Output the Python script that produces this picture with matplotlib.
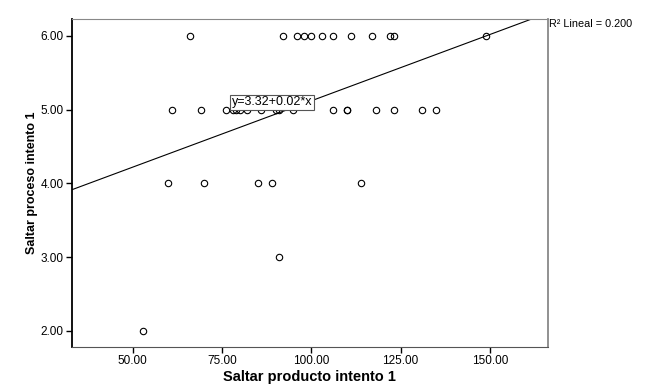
import matplotlib
matplotlib.use('Agg')
import matplotlib.pyplot as plt

plt.rcParams['font.family'] = ['Liberation Sans', 'DejaVu Sans']

# scatter values
producto = [66, 92, 96, 98, 100, 103, 106, 111, 117, 122, 123, 149,
            61, 69, 76, 78, 79, 80, 82, 86, 90, 91, 95, 106, 110, 110, 118, 123, 131, 135,
            60, 70, 85, 89, 114,
            91,
            53]
proceso = [6, 6, 6, 6, 6, 6, 6, 6, 6, 6, 6, 6,
           5, 5, 5, 5, 5, 5, 5, 5, 5, 5, 5, 5, 5, 5, 5, 5, 5, 5,
           4, 4, 4, 4, 4,
           3,
           2]

intercept = 3.32
slope = 0.018
xlim = [33, 166.2]
ylim = [1.78, 6.23]
xticks = [50, 75, 100, 125, 150]
yticks = [2, 3, 4, 5, 6]

fig = plt.figure(figsize=(6.46, 3.92), dpi=100)
ax = fig.add_axes([0.1115, 0.115, 0.7365, 0.8365])

ax.plot(producto, proceso, 'o', mfc='none', mec='black', ms=4.6, mew=0.8)
ax.plot(xlim, [intercept + slope * v for v in xlim], color='black', lw=0.8)

ax.set_xlim(xlim)
ax.set_ylim(ylim)
ax.set_xticks(xticks)
ax.set_xticklabels(['%.2f' % v for v in xticks])
ax.set_yticks(yticks)
ax.set_yticklabels(['%.2f' % v for v in yticks])
ax.tick_params(labelsize=8.5, length=4, width=1, direction='out', colors='black', pad=2)

ax.spines['left'].set_linewidth(1.3)
ax.spines['left'].set_color('black')
ax.spines['bottom'].set_color('#555555')
ax.spines['top'].set_color('#888888')
ax.spines['right'].set_color('#888888')
ax.spines['right'].set_linewidth(1.3)

ax.set_xlabel('Saltar producto intento 1', fontsize=10.5, fontweight='bold', labelpad=2)
ax.set_ylabel('Saltar proceso intento 1', fontsize=9, fontweight='bold', labelpad=2)

ax.text(77.7, 5.1, 'y=3.32+0.02*x', fontsize=9, va='center', ha='left',
        bbox=dict(boxstyle='square,pad=0.12', fc='white', ec='#555555', lw=0.8))
ax.text(1.002, 0.985, 'R² Lineal = 0.200', transform=ax.transAxes,
        fontsize=7.8, va='center', ha='left')

fig.savefig('out.png', dpi=100)
